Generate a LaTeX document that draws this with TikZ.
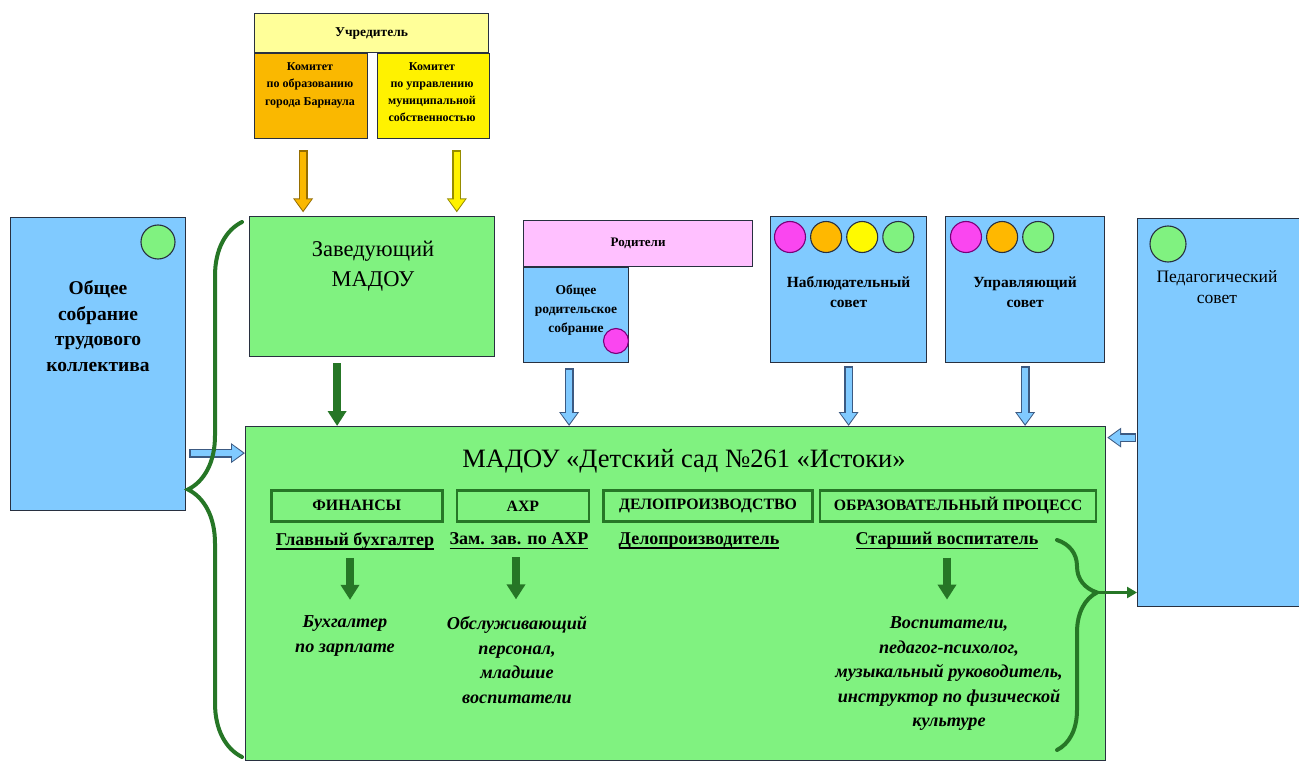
\documentclass[tikz,border=0pt]{standalone}
\usepackage{fontspec}
\setmainfont{Liberation Serif}
\usetikzlibrary{positioning, calc, arrows.meta, decorations.pathreplacing}

\definecolor{boxgreen}{RGB}{128,242,128}
\definecolor{boxblue}{RGB}{128,202,255}
\definecolor{boxpink}{RGB}{255,192,255}
\definecolor{paleyellow}{RGB}{255,255,153}
\definecolor{komorange}{RGB}{250,184,0}
\definecolor{komyellow}{RGB}{255,242,0}
\definecolor{dotmagenta}{RGB}{250,70,240}
\definecolor{dotpurple}{RGB}{120,0,120}
\definecolor{dotorange}{RGB}{255,184,0}
\definecolor{dotyellow}{RGB}{255,250,0}
\definecolor{darkgreen}{RGB}{38,118,38}
\definecolor{edgegray}{RGB}{40,48,64}
\definecolor{arroworange}{RGB}{150,110,0}
\definecolor{arrowyellow}{RGB}{150,140,0}
\definecolor{arrowblue}{RGB}{60,90,130}

\newcommand{\fs}[2]{\fontsize{#1}{#2}\selectfont}
\newcommand{\ulin}[1]{\setbox0\hbox{#1}\leavevmode\rlap{\vrule height -2.8pt depth 4.4pt width \wd0}\box0}
\newcommand{\hollowarrow}[4]{% fill, edge, from, to
  \draw[line width=9pt, draw=#2, -{Triangle[width=19pt,length=14pt]}] (#3) -- (#4);
  \draw[line width=6.2pt, draw=#1, shorten <=1.4pt, shorten >=1.9pt, -{Triangle[width=15.4pt,length=11pt]}] (#3) -- (#4);}

\begin{document}
\begin{tikzpicture}[x=1pt, y=-1pt,
    box/.style={draw=edgegray, line width=1.2pt, inner sep=0pt, anchor=north west},
    dot/.style={circle, draw=edgegray, line width=1.1pt, minimum size=31pt, inner sep=0pt},
    emptynode/.style={inner sep=0pt, align=center},
    section/.style={draw=darkgreen, line width=2.6pt, minimum height=31pt, inner sep=0pt, anchor=north west, font=\bfseries\fs{15.8}{17}},
    staff/.style={inner sep=0pt, font=\bfseries\fs{18}{20}},
    workers/.style={inner sep=0pt, align=center, font=\bfseries\itshape\fs{18.2}{24.5}},
    greenarrow/.style={draw=darkgreen, line width=8.5pt, -{Triangle[width=18pt,length=15pt]}},
    curly/.style={draw=darkgreen, line width=4pt, line cap=round, decorate, decoration={brace, amplitude=#1}}]

    \fill[white] (0,0) rectangle (1299,762);
    \useasboundingbox (0,0) rectangle (1299,762);

    %Founder
    \node[box, fill=paleyellow, minimum width=234pt, minimum height=39pt] (uchr) at (254,13) {};
    \node[box, fill=komorange, minimum width=113pt, minimum height=85pt] (komobr) [below=0pt of uchr.south west, anchor=north west] {};
    \node[box, fill=komyellow, minimum width=112pt, minimum height=85pt] (komupr) [right=9pt of komobr.north east, anchor=north west] {};
    \node[emptynode, font=\bfseries\fs{13.5}{15}] (uchrtxt) at (uchr.center) {Учредитель};
    \node[emptynode, font=\bfseries\fs{12}{17.5}] (komobrtxt) at (310,85) {Комитет\\по образованию\\города Барнаула};
    \node[emptynode, font=\bfseries\fs{12}{16.8}] (komuprtxt) at (432,92) {Комитет\\по управлению\\муниципальной\\собственностью};

    %Councils
    \node[box, fill=boxblue, minimum width=175pt, minimum height=293pt] (obsch) at (10,217) {};
    \node[dot, fill=boxgreen, minimum size=34pt] (obschdot) at (158,242) {};
    \node[emptynode, font=\bfseries\fs{19.5}{25.5}] (obschtxt) at (98,326) {Общее\\собрание\\трудового\\коллектива};

    \node[box, fill=boxgreen, minimum width=245pt, minimum height=140pt] (zav) at (249,216) {};
    \node[emptynode, font=\fs{22.5}{30}] (zavtxt) at (373,266) {Заведующий\\МАДОУ};

    \node[box, fill=boxpink, minimum width=229pt, minimum height=46pt] (rod) at (523,220) {};
    \node[box, fill=boxblue, minimum width=105pt, minimum height=95pt] (rodsobr) [below=0pt of rod.south west, anchor=north west] {};
    \node[emptynode, font=\bfseries\fs{13}{15}] (rodtxt) at (rod.center) {Родители};
    \node[emptynode, font=\bfseries\fs{13.5}{19}] (rodsobrtxt) at (576,310) {Общее\\родительское\\собрание};
    \node[dot, fill=dotmagenta, draw=dotpurple, minimum size=25pt] (rodsobrdot) at (616,341) {};

    \node[box, fill=boxblue, minimum width=156pt, minimum height=146pt] (nabl) at (770,216) {};
    \node[dot, fill=dotmagenta, draw=dotpurple] (nabl1) at (790,237) {};
    \node[dot, fill=dotorange] (nabl2) [right=4pt of nabl1] {};
    \node[dot, fill=dotyellow] (nabl3) [right=4pt of nabl2] {};
    \node[dot, fill=boxgreen] (nabl4) [right=4pt of nabl3] {};
    \node[emptynode, font=\bfseries\fs{15.5}{20}] (nabltxt) at (nabl.center |- 0,292) {Наблюдательный\\совет};

    \node[box, fill=boxblue, minimum width=159pt, minimum height=146pt] (upr) at (945,216) {};
    \node[dot, fill=dotmagenta, draw=dotpurple] (upr1) at (966,237) {};
    \node[dot, fill=dotorange] (upr2) [right=4pt of upr1] {};
    \node[dot, fill=boxgreen] (upr3) [right=4pt of upr2] {};
    \node[emptynode, font=\bfseries\fs{15.5}{20}] (uprtxt) at (upr.center |- 0,292) {Управляющий\\совет};

    \node[box, fill=boxblue, minimum width=170pt, minimum height=388pt] (ped) at (1137,218) {};
    \node[dot, fill=boxgreen, minimum size=36pt] (peddot) at (1168,244) {};
    \node[emptynode, font=\fs{17.5}{21}] (pedtxt) at (1217,287) {Педагогический\\совет};

    %Kindergarten
    \node[box, fill=boxgreen, minimum width=860pt, minimum height=334pt] (main) at (245,426) {};
    \node[emptynode, font=\fs{26.5}{30}] (title) at (684,461) {МАДОУ «Детский сад №261 «Истоки»};

    \node[section, minimum width=171pt] (fin) at (270,489) {ФИНАНСЫ};
    \node[section, minimum width=132pt] (ahr) [right=12pt of fin.north east, anchor=north west] {АХР};
    \node[section, minimum width=209pt] (delo) [right=12pt of ahr.north east, anchor=north west] {ДЕЛОПРОИЗВОДСТВО};
    \node[section, minimum width=276pt] (obr) [right=5pt of delo.north east, anchor=north west] {ОБРАЗОВАТЕЛЬНЫЙ ПРОЦЕСС};

    \node[staff] (glbuh) at (355,541) {\ulin{Главный бухгалтер}};
    \node[staff] (zamahr) at (519,541) {\ulin{Зам. зав. по АХР}};
    \node[staff] (delopr) at (699,541) {\ulin{Делопроизводитель}};
    \node[staff] (stvosp) at (947,541) {\ulin{Старший воспитатель}};

    \node[workers] (buhzp) at (345,636) {Бухгалтер\\по зарплате};
    \node[workers] (obsl) at (517,660) {Обслуживающий\\персонал,\\младшие\\воспитатели};
    \node[workers] (vosp) at (949,674) {Воспитатели,\\педагог-психолог,\\музыкальный руководитель,\\инструктор по физической\\культуре};

    %Arrows
    \hollowarrow{komorange}{arroworange}{$(komobr.south)+(-8,11)$}{$(komobr.south)+(-8,73)$}
    \hollowarrow{komyellow}{arrowyellow}{$(komupr.south)+(23,11)$}{$(komupr.south)+(23,73)$}
    \hollowarrow{boxblue}{arrowblue}{$(rodsobr.south)+(-7,5)$}{$(rodsobr.south |- main.north)+(-7,0)$}
    \hollowarrow{boxblue}{arrowblue}{$(nabl.south)+(0,3)$}{nabl.south |- main.north}
    \hollowarrow{boxblue}{arrowblue}{$(upr.south)+(0,3)$}{upr.south |- main.north}
    \hollowarrow{boxblue}{arrowblue}{$(obsch.east)+(3,89)$}{$(obsch.east -| main.west)+(0,89)$}
    \hollowarrow{boxblue}{arrowblue}{$(ped.west)+(-1,25)$}{$(ped.west -| main.east)+(1,25)$}

    \draw[greenarrow] ($(zav.south)+(-35,6)$) coordinate (zavout) -- (zavout |- main.north);
    \draw[greenarrow] ($(glbuh.south)+(-5,8)$) -- ++(0,42);
    \draw[greenarrow] ($(zamahr.south)+(-3,8)$) -- ++(0,42);
    \draw[greenarrow] ($(stvosp.south)+(0,8)$) -- ++(0,42);

    %Braces
    \coordinate (leftbrace top) at (242,222);
    \coordinate (leftbrace bottom) at (242,757);
    \draw[curly=54pt] (leftbrace bottom) -- (leftbrace top);

    \coordinate (edubrace top) at (1057,540);
    \coordinate (edubrace bottom) at (1057,750);
    \coordinate (edubrace tip) at (1097,592.5);
    \draw[curly=40pt, decoration={aspect=0.25}] (edubrace top) -- (edubrace bottom);
    \draw[line width=3pt, darkgreen, -{Triangle[width=11pt,length=10pt]}] (edubrace tip) -- (edubrace tip -| ped.west);

\end{tikzpicture}
\end{document}
